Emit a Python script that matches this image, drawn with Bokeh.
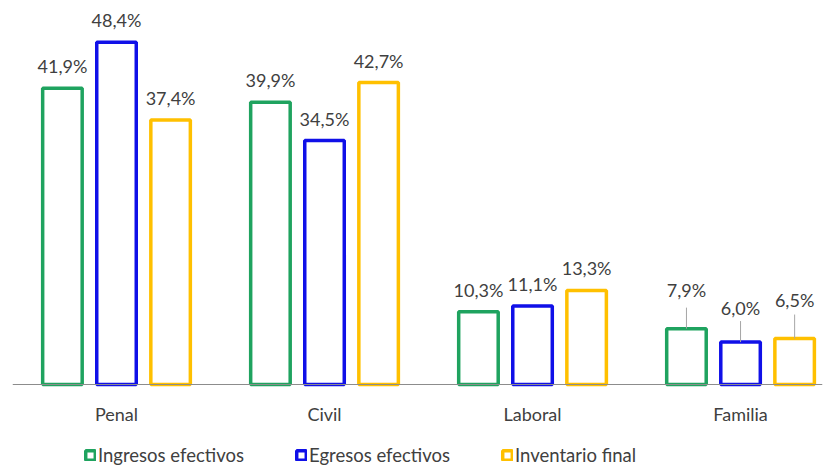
from bokeh.plotting import figure
from bokeh.models import ColumnDataSource, LabelSet, Legend, LegendItem, Range1d, FixedTicker
from bokeh.core.properties import value
from bokeh.transform import dodge
from bokeh.embed import file_html
from bokeh.resources import INLINE

categories = ["Penal", "Civil", "Laboral", "Familia"]
series_names = ["Ingresos efectivos", "Egresos efectivos", "Inventario final"]
ingresos = [41.9, 39.9, 10.3, 7.9]
egresos = [48.4, 34.5, 11.1, 6.0]
inventario = [37.4, 42.7, 13.3, 6.5]

colors = ["#1FA35F", "#1010E8", "#FFC000"]
FONT = "Lato"
TXT = "#404040"
FS = "18px"

xs = list(range(len(categories)))
fmt = lambda v: f"{v:.1f}%".replace(".", ",")
src = ColumnDataSource(dict(
    x=xs, ingresos=ingresos, egresos=egresos, inventario=inventario,
    l_ing=[fmt(v) for v in ingresos],
    l_egr=[fmt(v) for v in egresos],
    l_inv=[fmt(v) for v in inventario],
))

BASE_PX = 384
px_per_unit = BASE_PX / 54.3
p = figure(frame_width=810, frame_height=472, output_backend="svg", toolbar_location=None,
           x_range=Range1d(-0.5, 3.394), y_range=Range1d(-(472 - BASE_PX) / px_per_unit, 54.3),
           min_border_left=12, min_border_right=13, min_border_top=0, min_border_bottom=0)
p.outline_line_color = None
p.grid.visible = False
p.yaxis.visible = False
p.background_fill_color = "white"
p.border_fill_color = "white"

offsets = [-0.26, 0.0, 0.26]
fields = ["ingresos", "egresos", "inventario"]
lfields = ["l_ing", "l_egr", "l_inv"]
renderers = []
for off, fld, col in zip(offsets, fields, colors):
    r = p.vbar(x=dodge("x", off), top=fld, width=0.19, source=src,
               fill_color="white", line_color=col, line_width=3.5)
    renderers.append(r)

std_src = ColumnDataSource(dict(
    x=xs[:3], ingresos=ingresos[:3], egresos=egresos[:3], inventario=inventario[:3],
    l_ing=src.data["l_ing"][:3], l_egr=src.data["l_egr"][:3], l_inv=src.data["l_inv"][:3]))
for off, fld, lf in zip(offsets, fields, lfields):
    p.add_layout(LabelSet(x=dodge("x", off), y=fld, text=lf, source=std_src,
                          y_offset=22, text_align="center", text_baseline="middle",
                          text_font=value(FONT), text_font_size=value(FS), text_color=TXT))

# Familia labels with leader lines (pixel offsets are styling)
fam_vals = [ingresos[3], egresos[3], inventario[3]]
fam_lab = [fmt(v) for v in fam_vals]
fam_label_px = [39, 34, 39]
fam_line_px = [21, 21, 24]
fam_x = [3 + o for o in offsets]
fam_src = ColumnDataSource(dict(
    x=fam_x, y0=fam_vals,
    y1=[v + d / px_per_unit for v, d in zip(fam_vals, fam_line_px)],
    yl=[v + d / px_per_unit for v, d in zip(fam_vals, fam_label_px)],
    t=fam_lab))
p.segment(x0="x", y0="y0", x1="x", y1="y1", source=fam_src, line_color="#A6A6A6", line_width=1)
p.add_layout(LabelSet(x="x", y="yl", text="t", source=fam_src,
                      text_align="center", text_baseline="middle",
                      text_font=value(FONT), text_font_size=value(FS), text_color=TXT))

ax = p.xaxis[0]
ax.fixed_location = 0
ax.ticker = FixedTicker(ticks=xs)
ax.major_label_overrides = {i: c for i, c in enumerate(categories)}
ax.major_tick_line_color = None
ax.minor_tick_line_color = None
ax.axis_line_color = "#8C8C8C"
ax.axis_line_width = 1
ax.major_label_standoff = 12
ax.major_label_text_font = FONT
ax.major_label_text_font_size = FS
ax.major_label_text_color = TXT

legend = Legend(items=[LegendItem(label=n, renderers=[r]) for n, r in zip(series_names, renderers)],
                orientation="horizontal", location=(72, 6),
                label_text_font=FONT, label_text_font_size="18.5px", label_text_color=TXT,
                glyph_width=12, glyph_height=12, label_standoff=2, spacing=51,
                border_line_color=None, background_fill_alpha=0,
                padding=0, margin=0)
p.add_layout(legend)

open("out.html", "w").write(file_html(p, INLINE))
